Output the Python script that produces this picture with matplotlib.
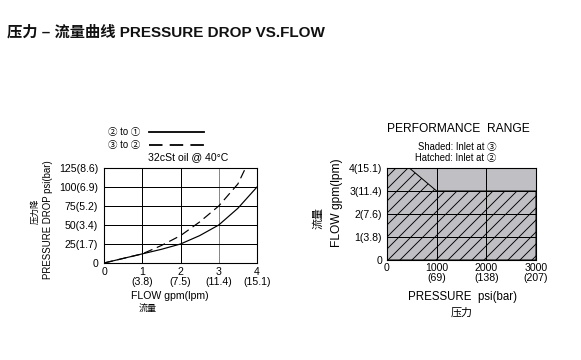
import matplotlib
matplotlib.use("Agg")
import matplotlib.pyplot as plt
from matplotlib.patches import Polygon

# ---------------- data ----------------
flow_gpm = [0, 0.5, 1, 1.5, 2, 2.5, 3, 3.5, 4]
drop_2to1 = [0, 6, 12, 18, 25, 36, 50, 72, 100]
flow_gpm_b = [0, 0.5, 1, 1.5, 2, 2.5, 3, 3.5, 3.7]
drop_3to2 = [0, 6, 12, 23, 36, 54, 75, 104, 125]

left_xticks = [0, 1, 2, 3, 4]
left_xlabels = ["0", "1\n(3.8)", "2\n(7.5)", "3\n(11.4)", "4\n(15.1)"]
left_yticks = [0, 25, 50, 75, 100, 125]
left_ylabels = ["0", "25(1.7)", "50(3.4)", "75(5.2)", "100(6.9)", "125(8.6)"]

right_xticks = [0, 1000, 2000, 3000]
right_xlabels = ["0", "1000\n(69)", "2000\n(138)", "3000\n(207)"]
right_yticks = [0, 1, 2, 3, 4]
right_ylabels = ["0", "1(3.8)", "2(7.6)", "3(11.4)", "4(15.1)"]

# performance range: shaded (inlet at 3) covers full range,
# hatched (inlet at 2) boundary polygon
shaded_psi = [0, 3000, 3000, 0]
shaded_gpm = [0, 0, 4, 4]
hatched_psi = [0, 0, 450, 1000, 3000, 3000]
hatched_gpm = [0, 4, 4, 3, 3, 0]

# ---------------- figure ----------------
W, H = 581, 360
DPI = 72
plt.rcParams['font.family'] = ['Liberation Sans', 'Noto Sans CJK SC', 'DejaVu Sans']
plt.rcParams['hatch.linewidth'] = 0.9
fig = plt.figure(figsize=(W / DPI, H / DPI), dpi=DPI)
fig.patch.set_facecolor('white')


def ax_rect(x0, y0, x1, y1):
    return [x0 / W, 1 - y1 / H, (x1 - x0) / W, (y1 - y0) / H]


def fp(x, y):
    return (x / W, 1 - y / H)


FS = 10.5

# title
fig.text(*fp(7, 32), "压力 – 流量曲线 PRESSURE DROP VS.FLOW", fontsize=15.3,
         fontweight='bold', ha='left', va='center', color='#111111')

# ---------------- left chart ----------------
ax1 = fig.add_axes(ax_rect(104, 168, 257, 263))
ax1.set_xlim(0, 4)
ax1.set_ylim(0, 125)
ax1.set_xticks(left_xticks)
ax1.set_xticklabels(left_xlabels, fontsize=FS, linespacing=1.05)
ax1.set_yticks(left_yticks)
ax1.set_yticklabels(left_ylabels, fontsize=FS)
ax1.tick_params(length=0, pad=4)
ax1.tick_params(axis='y', pad=6)
for v in [1, 2]:
    ax1.axvline(v, color='black', lw=1.0, zorder=1)
ax1.axvline(3, color='#888888', lw=1.0, zorder=1)
for v in [25, 50, 75, 100]:
    ax1.axhline(v, color='black', lw=1.0, zorder=1)
for s in ax1.spines.values():
    s.set_linewidth(1.1)

l1, = ax1.plot(flow_gpm, drop_2to1, color='black', lw=1.2, zorder=3,
               label="② to ①", clip_on=True)
l2, = ax1.plot(flow_gpm_b, drop_3to2, color='black', lw=1.2, zorder=3,
               label="③ to ②", clip_on=True)
l2.set_dashes((7.5, 4))

leg = ax1.legend(handles=[l1, l2], loc='lower left',
                 bbox_to_anchor=fp(108, 150), bbox_transform=fig.transFigure,
                 frameon=False, markerfirst=False, fontsize=9.5,
                 handlelength=5.8, handletextpad=0.9, labelspacing=0.3,
                 borderpad=0, borderaxespad=0)
for lh in leg.get_lines():
    lh.set_linewidth(1.8)

fig.text(*fp(188, 157), "32cSt oil @ 40°C", fontsize=10.5, ha='center', va='center')

fig.text(*fp(48, 220), "PRESSURE DROP psi(bar)", fontsize=9.6, rotation=90,
         ha='center', va='center')
fig.text(*fp(35, 211), "压力降", fontsize=8.5, rotation=90,
         ha='center', va='center')
fig.text(*fp(170, 296), "FLOW gpm(lpm)", fontsize=FS, ha='center', va='center')
fig.text(*fp(148, 309), "流量", fontsize=9, ha='center', va='center')

# ---------------- right chart ----------------
ax2 = fig.add_axes(ax_rect(387, 168, 536, 260))
ax2.set_xlim(0, 3000)
ax2.set_ylim(0, 4)
ax2.set_xticks(right_xticks)
ax2.set_xticklabels(right_xlabels, fontsize=FS, linespacing=1.0)
ax2.set_yticks(right_yticks)
ax2.set_yticklabels(right_ylabels, fontsize=FS)
ax2.tick_params(length=0, pad=3)
ax2.tick_params(axis='y', pad=5)

ax2.fill(shaded_psi, shaded_gpm, facecolor='#c0c0c4', edgecolor='none', zorder=0)
hp = Polygon(list(zip(hatched_psi, hatched_gpm)), closed=True, facecolor='none',
             edgecolor='black', hatch='//', lw=1.0, zorder=1)
ax2.add_patch(hp)
for v in [1000, 2000]:
    ax2.axvline(v, color='black', lw=1.0, zorder=2)
for v in [1, 2, 3]:
    ax2.axhline(v, color='black', lw=1.0, zorder=2)
for s in ax2.spines.values():
    s.set_linewidth(1.1)

fig.text(*fp(458, 129), "PERFORMANCE  RANGE", fontsize=12, ha='center', va='center')
fig.text(*fp(457, 147), "Shaded: Inlet at ③", fontsize=9.5, ha='center', va='center')
fig.text(*fp(456, 158), "Hatched: Inlet at ②", fontsize=9.5, ha='center', va='center')

fig.text(*fp(337, 203), "FLOW gpm(lpm)", fontsize=12, rotation=90,
         ha='center', va='center')
fig.text(*fp(318, 218), "流量", fontsize=11, rotation=90, ha='center', va='center')
fig.text(*fp(463, 297), "PRESSURE  psi(bar)", fontsize=11.5, ha='center', va='center')
fig.text(*fp(462, 313), "压力", fontsize=11, ha='center', va='center')

fig.savefig("out.png", dpi=DPI, facecolor='white')
